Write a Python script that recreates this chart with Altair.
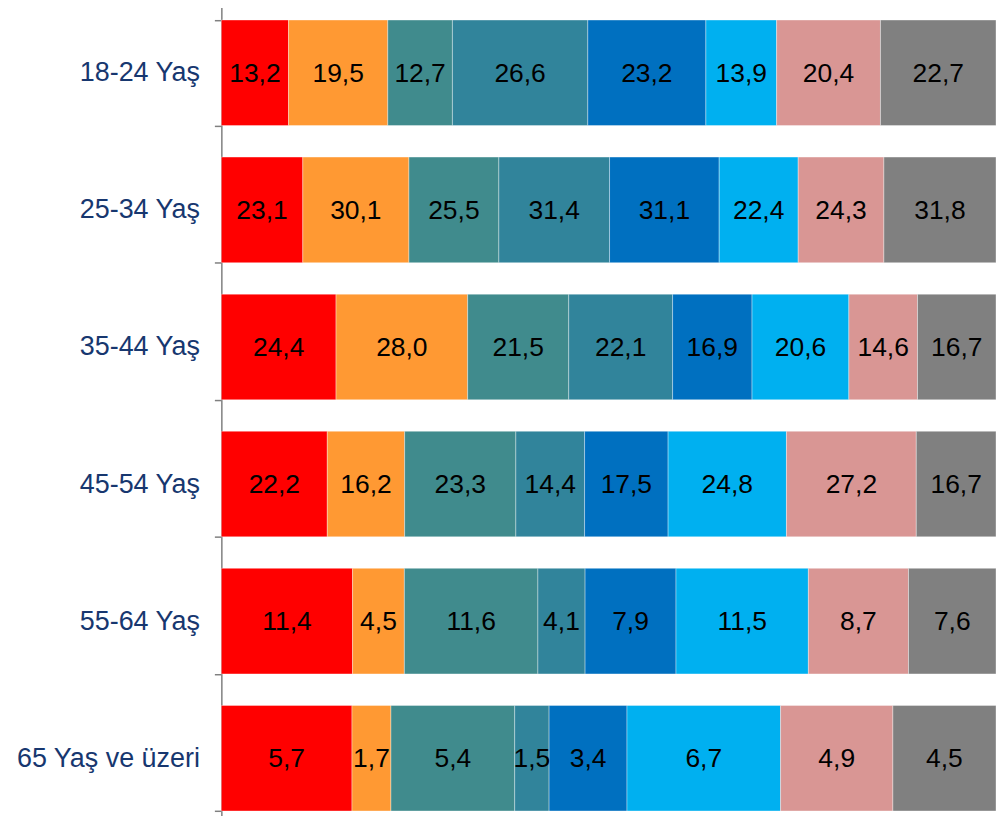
import altair as alt
import pandas as pd

ages = ["18-24 Yaş", "25-34 Yaş", "35-44 Yaş", "45-54 Yaş", "55-64 Yaş", "65 Yaş ve üzeri"]
series = ["S1", "S2", "S3", "S4", "S5", "S6", "S7", "S8"]
colors = ["#FF0000", "#FF9933", "#408B8D", "#31849B", "#0070C0", "#00B0F0", "#D99694", "#808080"]
values = [
    [13.2, 19.5, 12.7, 26.6, 23.2, 13.9, 20.4, 22.7],
    [23.1, 30.1, 25.5, 31.4, 31.1, 22.4, 24.3, 31.8],
    [24.4, 28.0, 21.5, 22.1, 16.9, 20.6, 14.6, 16.7],
    [22.2, 16.2, 23.3, 14.4, 17.5, 24.8, 27.2, 16.7],
    [11.4, 4.5, 11.6, 4.1, 7.9, 11.5, 8.7, 7.6],
    [5.7, 1.7, 5.4, 1.5, 3.4, 6.7, 4.9, 4.5],
]

rows = []
for i, a in enumerate(ages):
    for k, s in enumerate(series):
        v = values[i][k]
        rows.append({"age": a, "series": s, "k": k, "value": v,
                     "label": f"{v:.1f}".replace(".", ",")})
df = pd.DataFrame(rows)

FONT = "Liberation Sans"

y_scale = alt.Scale(paddingInner=0.23, paddingOuter=0.115, range=[-5, 820])

y_enc = alt.Y("age:N", sort=ages, title=None, scale=y_scale,
              axis=alt.Axis(labelFont=FONT, labelFontSize=27, labelColor="#17376F",
                            labelPadding=15, tickBand="extent", tickSize=7,
                            tickColor="#808080", domainColor="#808080",
                            domainWidth=1.5, tickWidth=1.5, labelLimit=300))

base = alt.Chart(df).transform_stack(
    stack="value", as_=["x0", "x1"], groupby=["age"], offset="normalize",
    sort=[alt.SortField("k", order="ascending")]
).transform_calculate(mid="(datum.x0 + datum.x1) / 2")

bars = base.mark_bar(stroke="#ffffff", strokeWidth=0.6, strokeOpacity=0.6).encode(
    x=alt.X("x0:Q", axis=None, scale=alt.Scale(domain=[0, 1], nice=False)),
    x2="x1:Q",
    y=y_enc,
    color=alt.Color("series:N", scale=alt.Scale(domain=series, range=colors), legend=None),
)

texts = base.mark_text(font=FONT, fontSize=26.5, color="#000000", baseline="middle", dy=1).encode(
    x=alt.X("mid:Q"),
    y=alt.Y("age:N", sort=ages),
    text="label:N",
)

chart = alt.layer(bars, texts).properties(
    width=777, height=820,
    autosize=alt.AutoSizeParams(type="none"),
    padding={"left": 214, "top": 0, "right": 0, "bottom": 0},
).configure_view(stroke=None).configure_axis(grid=False)

chart.save("out.html", embed_options={"renderer": "svg", "actions": False})
